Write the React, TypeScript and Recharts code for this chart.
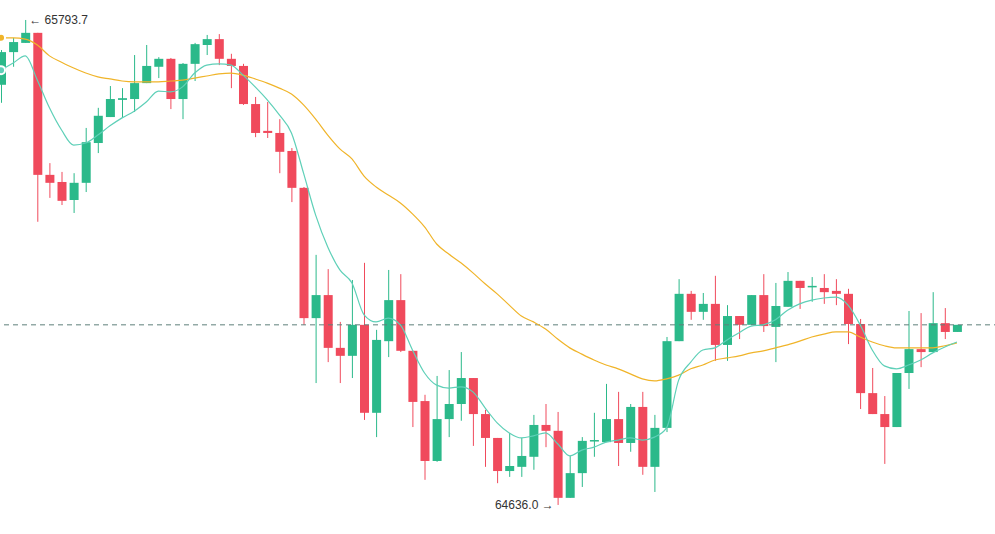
import {
  Bar,
  ComposedChart,
  Line,
  ReferenceDot,
  ReferenceLine,
  XAxis,
  YAxis,
} from "recharts";

const opens = [
  65639, 65717, 65739, 65763, 65424, 65407, 65364, 65405, 65500, 65562,
  65603, 65605, 65643, 65682, 65701, 65605, 65689, 65734, 65748, 65701,
  65684, 65593, 65529, 65524, 65481, 65393, 65082, 65137, 65011, 64992,
  65066, 64856, 65027, 65125, 65004, 64884, 64741, 64841, 64877, 64939,
  64853, 64796, 64717, 64727, 64751, 64827, 64813, 64653, 64712, 64789,
  64786, 64841, 64784, 64870, 64727, 64820, 65027, 65140, 65097, 65116,
  65018, 65087, 65066, 65137, 65061, 65109, 65171, 65156, 65154, 65147,
  65140, 65068, 64903, 64853, 64822, 64951, 65008, 65001, 65070, 65049,
];

const highs = [
  65722, 65751, 65793.7, 65763, 65452, 65431, 65428, 65536, 65584, 65636,
  65631, 65710, 65734, 65705, 65703, 65691, 65739, 65758, 65760, 65713,
  65689, 65610, 65598, 65557, 65488, 65395, 65233, 65199, 65073, 65173,
  65214, 65054, 65197, 65187, 65004, 64899, 64944, 64958, 65001, 64939,
  64863, 64796, 64808, 64796, 64851, 64877, 64858, 64753, 64798, 64856,
  64925, 64906, 64877, 64906, 64851, 65037, 65175, 65147, 65142, 65183,
  65113, 65087, 65137, 65187, 65166, 65192, 65171, 65180, 65187, 65175,
  65152, 65080, 64963, 64896, 64951, 65099, 65094, 65144, 65106, 65066,
];

const lows = [
  65596, 65682, 65739, 65312, 65369, 65352, 65333, 65383, 65476, 65562,
  65562, 65574, 65643, 65655, 65581, 65557, 65648, 65710, 65686, 65631,
  65591, 65514, 65512, 65428, 65359, 65066, 64927, 64977, 64927, 64939,
  64839, 64798, 64989, 65001, 64822, 64696, 64739, 64798, 64837, 64777,
  64727, 64688, 64703, 64703, 64720, 64774, 64636.0, 64653, 64679, 64751,
  64786, 64729, 64763, 64708, 64667, 64810, 65027, 65078, 65078, 64980,
  64980, 65032, 65066, 65049, 64977, 65109, 65104, 65121, 65116, 65113,
  65020, 64865, 64853, 64734, 64822, 64913, 64965, 65001, 65032, 65049,
];

const closes = [
  65717, 65741, 65763, 65424, 65405, 65362, 65405, 65502, 65565, 65605,
  65607, 65643, 65684, 65701, 65605, 65689, 65736, 65748, 65701, 65684,
  65593, 65524, 65524, 65479, 65393, 65082, 65137, 65011, 64992, 65066,
  64856, 65030, 65125, 65004, 64882, 64741, 64841, 64877, 64939, 64853,
  64796, 64717, 64729, 64753, 64827, 64813, 64653, 64712, 64789, 64791,
  64841, 64784, 64870, 64727, 64820, 65027, 65140, 65097, 65116, 65018,
  65087, 65066, 65137, 65063, 65111, 65171, 65154, 65159, 65144, 65140,
  65068, 64903, 64853, 64822, 64951, 65008, 65001, 65070, 65049, 65066,
];

// short moving average (teal)
const maShort = [
  65674, 65691, 65708, 65650, 65584, 65531, 65495, 65500, 65519, 65541,
  65560, 65576, 65598, 65624, 65622, 65634, 65667, 65686, 65689, 65686,
  65662, 65634, 65603, 65567, 65524, 65428, 65328, 65252, 65197, 65166,
  65090, 65073, 65082, 65066, 65006, 64951, 64922, 64915, 64918, 64906,
  64868, 64832, 64808, 64796, 64801, 64808, 64782, 64753, 64767, 64774,
  64786, 64791, 64796, 64791, 64798, 64820, 64934, 64977, 65006, 65011,
  65030, 65047, 65063, 65066, 65078, 65101, 65116, 65125, 65130, 65132,
  65113, 65066, 65006, 64968, 64961, 64970, 64982, 64999, 65013, 65025,
];

// long moving average (orange)
const maLong = [
  65751, 65751, 65748, 65734, 65708, 65693, 65679, 65667, 65658, 65653,
  65648, 65646, 65646, 65646, 65648, 65650, 65655, 65660, 65665, 65667,
  65662, 65653, 65643, 65631, 65617, 65591, 65557, 65519, 65486, 65462,
  65421, 65395, 65376, 65357, 65331, 65300, 65259, 65235, 65214, 65190,
  65164, 65140, 65113, 65087, 65073, 65056, 65032, 65011, 64996, 64982,
  64970, 64961, 64949, 64937, 64932, 64937, 64946, 64961, 64970, 64982,
  64987, 64992, 64999, 65004, 65011, 65018, 65027, 65037, 65044, 65049,
  65049, 65037, 65025, 65016, 65011, 65011, 65011, 65011, 65016, 65023,
];

const lastPrice = 65066;
const highMark = { index: 2, price: 65793.7, label: "65793.7" };
const lowMark = { index: 46, price: 64636.0, label: "64636.0" };

const UP = "#2bb98a";
const DOWN = "#f04a5c";

const data = opens.map((open, i) => ({
  i,
  open,
  high: highs[i],
  low: lows[i],
  close: closes[i],
  range: [lows[i], highs[i]],
  maShort: maShort[i],
  maLong: maLong[i],
}));

function Candle(props: any) {
  const { x, y, width, height, payload } = props;
  if (!payload) return null;
  const { open, close, high, low } = payload;
  const top = Math.min(y, y + height);
  const h = Math.abs(height);
  const span = high - low;
  const ratio = span > 0 ? h / span : 0;
  const bodyTop = top + (high - Math.max(open, close)) * ratio;
  const bodyBottom = top + (high - Math.min(open, close)) * ratio;
  const color = close >= open ? UP : DOWN;
  const cx = x + width / 2;
  return (
    <g>
      <line x1={cx} x2={cx} y1={top} y2={top + h} stroke={color} strokeWidth={1} />
      <rect
        x={x}
        y={bodyTop}
        width={width}
        height={Math.max(bodyBottom - bodyTop, 1.5)}
        fill={color}
      />
    </g>
  );
}

function HighLabel(props: any) {
  const { cx, cy } = props;
  return (
    <text x={cx + 4} y={cy + 4} fontSize={12} fill="#333" fontFamily="Arial, 'Liberation Sans', sans-serif">
      {"← " + highMark.label}
    </text>
  );
}

function LowLabel(props: any) {
  const { cx, cy } = props;
  return (
    <text
      x={cx - 4}
      y={cy + 4}
      fontSize={12}
      fill="#333"
      textAnchor="end"
      fontFamily="Arial, 'Liberation Sans', sans-serif"
    >
      {lowMark.label + " →"}
    </text>
  );
}

export default function App() {
  return (
    <>
      <style>{"body { margin: 0; }"}</style>
      <div
        style={{
          position: "relative",
          width: 995,
          height: 534,
          overflow: "hidden",
          background: "#fff",
        }}
      >
        <div style={{ position: "absolute", left: -5, top: 0 }}>
          <ComposedChart
            width={1000}
            height={534}
            data={data}
            margin={{ top: 0, right: 0, bottom: 0, left: 0 }}
          >
            <XAxis dataKey="i" hide padding={{ left: 0, right: 32 }} />
            <YAxis
              hide
              type="number"
              domain={[64566.7, 65841.4]}
              allowDataOverflow
            />
            <ReferenceLine
              y={lastPrice}
              stroke="#5e7f7b"
              strokeDasharray="5 4"
              strokeWidth={1}
            />
            <Bar
              dataKey="range"
              barSize={9}
              shape={<Candle />}
              isAnimationActive={false}
            />
            <Line
              type="monotone"
              dataKey="maLong"
              stroke="#f0b429"
              strokeWidth={1.2}
              dot={false}
              isAnimationActive={false}
            />
            <Line
              type="monotone"
              dataKey="maShort"
              stroke="#5fd0b8"
              strokeWidth={1.2}
              dot={false}
              isAnimationActive={false}
            />
            <ReferenceDot
              x={highMark.index}
              y={highMark.price}
              r={0}
              shape={<HighLabel />}
            />
            <ReferenceDot
              x={lowMark.index}
              y={lowMark.price}
              r={0}
              shape={<LowLabel />}
            />
          </ComposedChart>
        </div>
      </div>
    </>
  );
}
